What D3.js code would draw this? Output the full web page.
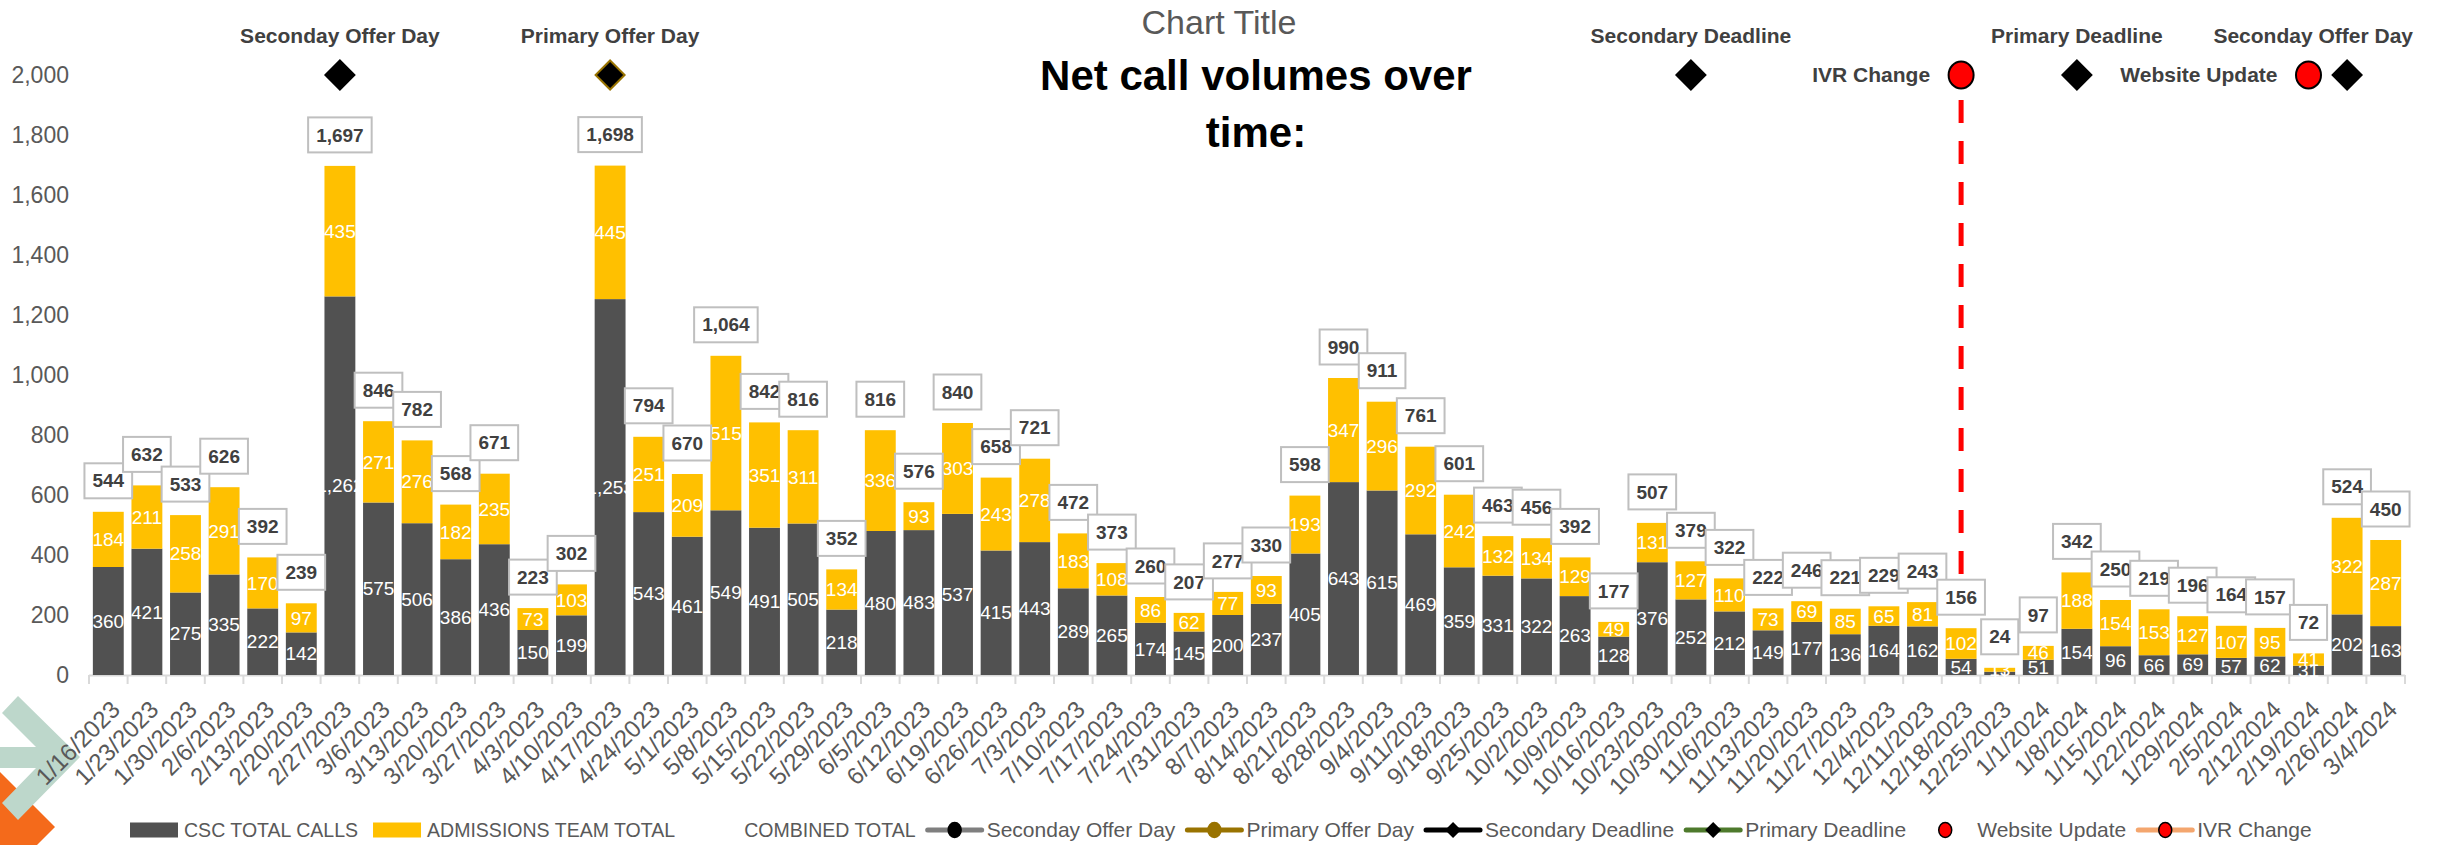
<!DOCTYPE html>
<html>
<head>
<meta charset="utf-8">
<script src="https://cdn.jsdelivr.net/npm/d3@7"></script>
<style>
  body { margin: 0; background: #fff; }
  svg { display: block; }
</style>
</head>
<body>
<div id="chart"></div>
<script>
// weekly call data
var weeks = ["1/16/2023","1/23/2023","1/30/2023","2/6/2023","2/13/2023","2/20/2023","2/27/2023","3/6/2023","3/13/2023","3/20/2023",
  "3/27/2023","4/3/2023","4/10/2023","4/17/2023","4/24/2023","5/1/2023","5/8/2023","5/15/2023","5/22/2023","5/29/2023",
  "6/5/2023","6/12/2023","6/19/2023","6/26/2023","7/3/2023","7/10/2023","7/17/2023","7/24/2023","7/31/2023","8/7/2023",
  "8/14/2023","8/21/2023","8/28/2023","9/4/2023","9/11/2023","9/18/2023","9/25/2023","10/2/2023","10/9/2023","10/16/2023",
  "10/23/2023","10/30/2023","11/6/2023","11/13/2023","11/20/2023","11/27/2023","12/4/2023","12/11/2023","12/18/2023","12/25/2023",
  "1/1/2024","1/8/2024","1/15/2024","1/22/2024","1/29/2024","2/5/2024","2/12/2024","2/19/2024","2/26/2024","3/4/2024"];
var cscCalls = [360,421,275,335,222,142,1262,575,506,386,
  436,150,199,1253,543,461,549,491,505,218,
  480,483,537,415,443,289,265,174,145,200,
  237,405,643,615,469,359,331,322,263,128,
  376,252,212,149,177,136,164,162,54,11,
  51,154,96,66,69,57,62,31,202,163];
var admissions = [184,211,258,291,170,97,435,271,276,182,
  235,73,103,445,251,209,515,351,311,134,
  336,93,303,243,278,183,108,86,62,77,
  93,193,347,296,292,242,132,134,129,49,
  131,127,110,73,69,85,65,81,102,13,
  46,188,154,153,127,107,95,41,322,287];
var combined = [544,632,533,626,392,239,1697,846,782,568,
  671,223,302,1698,794,670,1064,842,816,352,
  816,576,840,658,721,472,373,260,207,277,
  330,598,990,911,761,601,463,456,392,177,
  507,379,322,222,246,221,229,243,156,24,
  97,342,250,219,196,164,157,72,524,450];
var yTicks = [0,200,400,600,800,1000,1200,1400,1600,1800,2000];

// event markers (plotted at the 2,000 level)
var eventNames = ["Seconday Offer Day","Primary Offer Day","Secondary Deadline","IVR Change","Primary Deadline","Website Update","Seconday Offer Day"];
var eventWeeks = ["2/27/2023","4/17/2023","10/30/2023","12/18/2023","1/8/2024","2/19/2024","2/26/2024"];
var eventLevel = 2000;

var barSeries = ["CSC TOTAL CALLS","ADMISSIONS TEAM TOTAL","COMBINED TOTAL"];
var lineSeries = ["Seconday Offer Day","Primary Offer Day","Secondary Deadline","Primary Deadline","Website Update","IVR Change"];

var width = 2443, height = 845;
var FONT = "'Liberation Sans',Arial,sans-serif";
var DARK = "#515151", GOLD = "#FFC000", AXIS = "#595959";

// narrow the glyphs a bit, the original uses a condensed face
function squeeze(sel, k) {
  sel.each(function() {
    var w = this.getComputedTextLength();
    d3.select(this).attr("textLength", w * k).attr("lengthAdjust", "spacingAndGlyphs");
  });
}

var svg = d3.select("#chart").append("svg")
  .attr("width", width).attr("height", height)
  .style("font-family", FONT);

// corner decoration
svg.append("polygon")
  .attr("points", "0,772 55,827 37,845 0,845")
  .attr("fill", "#F46A1B");
svg.append("polygon")
  .attr("points", "0,747 36,747 2,713 18,696 80,757 18,820 2,803 36,768 0,768")
  .attr("fill", "#BDD7CB");

var x = d3.scaleBand().domain(weeks).range([89, 2405]).paddingInner(0.2).paddingOuter(0.1);
var edge = d3.scaleBand().domain(weeks).range([89, 2405]);
var y = d3.scaleLinear().domain([0, 2000]).range([675, 75]);
var cx = function(w) { return x(w) + x.bandwidth() / 2; };

// y axis labels
svg.append("g").selectAll("text")
  .data(yTicks).enter().append("text")
  .attr("x", 69).attr("y", function(d) { return y(d); })
  .attr("dy", "0.35em").attr("text-anchor", "end")
  .attr("fill", AXIS).style("font-size", "23px")
  .text(d3.format(","));

// x axis line + ticks between categories
var xg = svg.append("g");
xg.append("line").attr("x1", 89).attr("x2", 2405).attr("y1", 675.5).attr("y2", 675.5)
  .attr("stroke", "#D9D9D9").attr("stroke-width", 2);
xg.selectAll(".tk").data(weeks.concat(["end"])).enter().append("line")
  .attr("x1", function(d) { return d == "end" ? 2405 : edge(d); })
  .attr("x2", function(d) { return d == "end" ? 2405 : edge(d); })
  .attr("y1", 675).attr("y2", 684)
  .attr("stroke", "#D9D9D9").attr("stroke-width", 2);
xg.selectAll(".lbl").data(weeks).enter().append("text")
  .attr("transform", function(d) { return "translate(" + (cx(d) + 1) + ",699) rotate(-45)"; })
  .attr("dy", "0.71em").attr("text-anchor", "end")
  .attr("fill", AXIS).style("font-size", "24px")
  .text(function(d) { return d; });

// IVR change dashed line (behind bars)
var ivrWeek = eventWeeks[eventNames.indexOf("IVR Change")];
svg.append("line")
  .attr("x1", cx(ivrWeek)).attr("x2", cx(ivrWeek))
  .attr("y1", y(eventLevel) + 25).attr("y2", y(0))
  .attr("stroke", "#FF0000").attr("stroke-width", 5)
  .attr("stroke-dasharray", "23,18");

// stacked bars
var rows = weeks.map(function(w, i) { return {week: w, csc: cscCalls[i], adm: admissions[i], total: combined[i]}; });
var stack = d3.stack().keys(["csc", "adm"])(rows);
var colors = {csc: DARK, adm: GOLD};

var layers = svg.append("g").selectAll("g").data(stack).enter().append("g")
  .attr("fill", function(d) { return colors[d.key]; });
layers.selectAll("rect").data(function(d) { return d; }).enter().append("rect")
  .attr("x", function(d) { return x(d.data.week); })
  .attr("width", x.bandwidth())
  .attr("y", function(d) { return y(d[1]); })
  .attr("height", function(d) { return y(d[0]) - y(d[1]); });

layers.selectAll("text").data(function(d) { return d; }).enter().append("text")
  .attr("x", function(d) { return cx(d.data.week); })
  .attr("y", function(d) { return (y(d[0]) + y(d[1])) / 2; })
  .attr("dy", "0.35em").attr("text-anchor", "middle")
  .attr("fill", "#fff").style("font-size", "19px")
  .text(function(d) { return d3.format(",")(d[1] - d[0]); });

// combined total boxed labels
var boxes = svg.append("g").selectAll("g").data(rows).enter().append("g")
  .attr("transform", function(d) { return "translate(" + cx(d.week) + "," + (y(d.total) - 31) + ")"; });
boxes.append("text")
  .attr("text-anchor", "middle").attr("dy", "0.35em")
  .attr("fill", "#404040").style("font-size", "19px").style("font-weight", "bold")
  .text(function(d) { return d3.format(",")(d.total); });
boxes.each(function() {
  var g = d3.select(this);
  var w = g.select("text").node().getComputedTextLength() + 16;
  g.insert("rect", "text")
    .attr("x", -w / 2).attr("y", -17.5).attr("width", w).attr("height", 35)
    .attr("fill", "#fff").attr("stroke", "#BFBFBF").attr("stroke-width", 2);
});

// event markers
function diamond(r) { return "M0," + (-r) + "L" + r + ",0L0," + r + "L" + (-r) + ",0Z"; }
var markerStyle = {
  "Seconday Offer Day": {shape: "diamond", fill: "#000", stroke: "#000", label: "above"},
  "Primary Offer Day": {shape: "diamond", fill: "#000", stroke: "#997300", label: "above"},
  "Secondary Deadline": {shape: "diamond", fill: "#000", stroke: "#000", label: "above"},
  "Primary Deadline": {shape: "diamond", fill: "#000", stroke: "#000", label: "above"},
  "IVR Change": {shape: "circle", fill: "#FF0000", stroke: "#000", label: "left"},
  "Website Update": {shape: "circle", fill: "#FF0000", stroke: "#000", label: "left"}
};
var events = eventNames.map(function(n, i) { return {name: n, week: eventWeeks[i]}; });
var ev = svg.append("g").selectAll("g").data(events).enter().append("g")
  .attr("transform", function(d) { return "translate(" + cx(d.week) + "," + y(eventLevel) + ")"; });
ev.each(function(d) {
  var g = d3.select(this), s = markerStyle[d.name];
  if (s.shape == "diamond") {
    g.append("path").attr("d", diamond(14.5)).attr("fill", s.fill)
      .attr("stroke", s.stroke).attr("stroke-width", 2);
  } else {
    g.append("ellipse").attr("rx", 12.5).attr("ry", 13.5).attr("fill", s.fill)
      .attr("stroke", s.stroke).attr("stroke-width", 2);
  }
  var t = g.append("text").attr("dy", "0.35em")
    .attr("fill", "#404040").style("font-size", "21px").style("font-weight", "bold")
    .text(d.name);
  if (s.label == "above") {
    t.attr("y", -39).attr("text-anchor", "middle");
    var w = t.node().getComputedTextLength();
    var over = cx(d.week) + w / 2 - 2413;
    if (over > 0) t.attr("x", -over);
  } else {
    t.attr("x", -31).attr("text-anchor", "end");
  }
});

// titles
svg.append("text").attr("x", 1219).attr("y", 22).attr("dy", "0.35em")
  .attr("text-anchor", "middle").attr("fill", AXIS).style("font-size", "34px")
  .text("Chart Title");
var titleLines = ["Net call volumes over", "time:"];
svg.append("g").selectAll("text").data(titleLines).enter().append("text")
  .attr("x", 1256).attr("y", function(d, i) { return 75 + i * 57; }).attr("dy", "0.35em")
  .attr("text-anchor", "middle").attr("fill", "#000")
  .style("font-size", "42px").style("font-weight", "bold")
  .text(function(d) { return d; });

// legend
var lineColors = {
  "Seconday Offer Day": "#7F7F7F", "Primary Offer Day": "#997300", "Secondary Deadline": "#000",
  "Primary Deadline": "#4E7A2C", "Website Update": null, "IVR Change": "#F4A66E"
};
var lineMarkers = {
  "Seconday Offer Day": ["circle", "#000", "#000"], "Primary Offer Day": ["circle", "#997300", "#997300"],
  "Secondary Deadline": ["diamond", "#000", "#000"], "Primary Deadline": ["diamond", "#000", "#000"],
  "Website Update": ["circle", "#FF0000", "#000"], "IVR Change": ["circle", "#FF0000", "#000"]
};
var legend = svg.append("g").attr("transform", "translate(0,830)");
var lx = 130;
barSeries.forEach(function(name, i) {
  if (i < 2) legend.append("rect").attr("x", lx).attr("y", -7.5).attr("width", 48).attr("height", 15)
    .attr("fill", i == 0 ? DARK : GOLD);
  var t = legend.append("text").attr("x", lx + 54).attr("dy", "0.35em")
    .attr("fill", AXIS).style("font-size", "21px").text(name);
  var w = t.node().getComputedTextLength() * 0.93;
  squeeze(t, 0.93);
  lx = lx + 54 + w + 15;
});
lx -= 3;
lineSeries.forEach(function(name) {
  var mid = lx + 27;
  if (lineColors[name]) legend.append("line").attr("x1", lx).attr("x2", lx + 54)
    .attr("stroke", lineColors[name]).attr("stroke-width", 5).attr("stroke-linecap", "round");
  var m = lineMarkers[name];
  if (m[0] == "circle") legend.append("ellipse").attr("cx", mid).attr("rx", 6.5).attr("ry", 7.5)
    .attr("fill", m[1]).attr("stroke", m[2]).attr("stroke-width", 1.5);
  else legend.append("path").attr("transform", "translate(" + mid + ",0)").attr("d", diamond(8))
    .attr("fill", m[1]);
  var t = legend.append("text").attr("x", lx + 59).attr("dy", "0.35em")
    .attr("fill", AXIS).style("font-size", "21px").text(name);
  lx = lx + 59 + t.node().getComputedTextLength() + 12;
});
</script>
</body>
</html>
